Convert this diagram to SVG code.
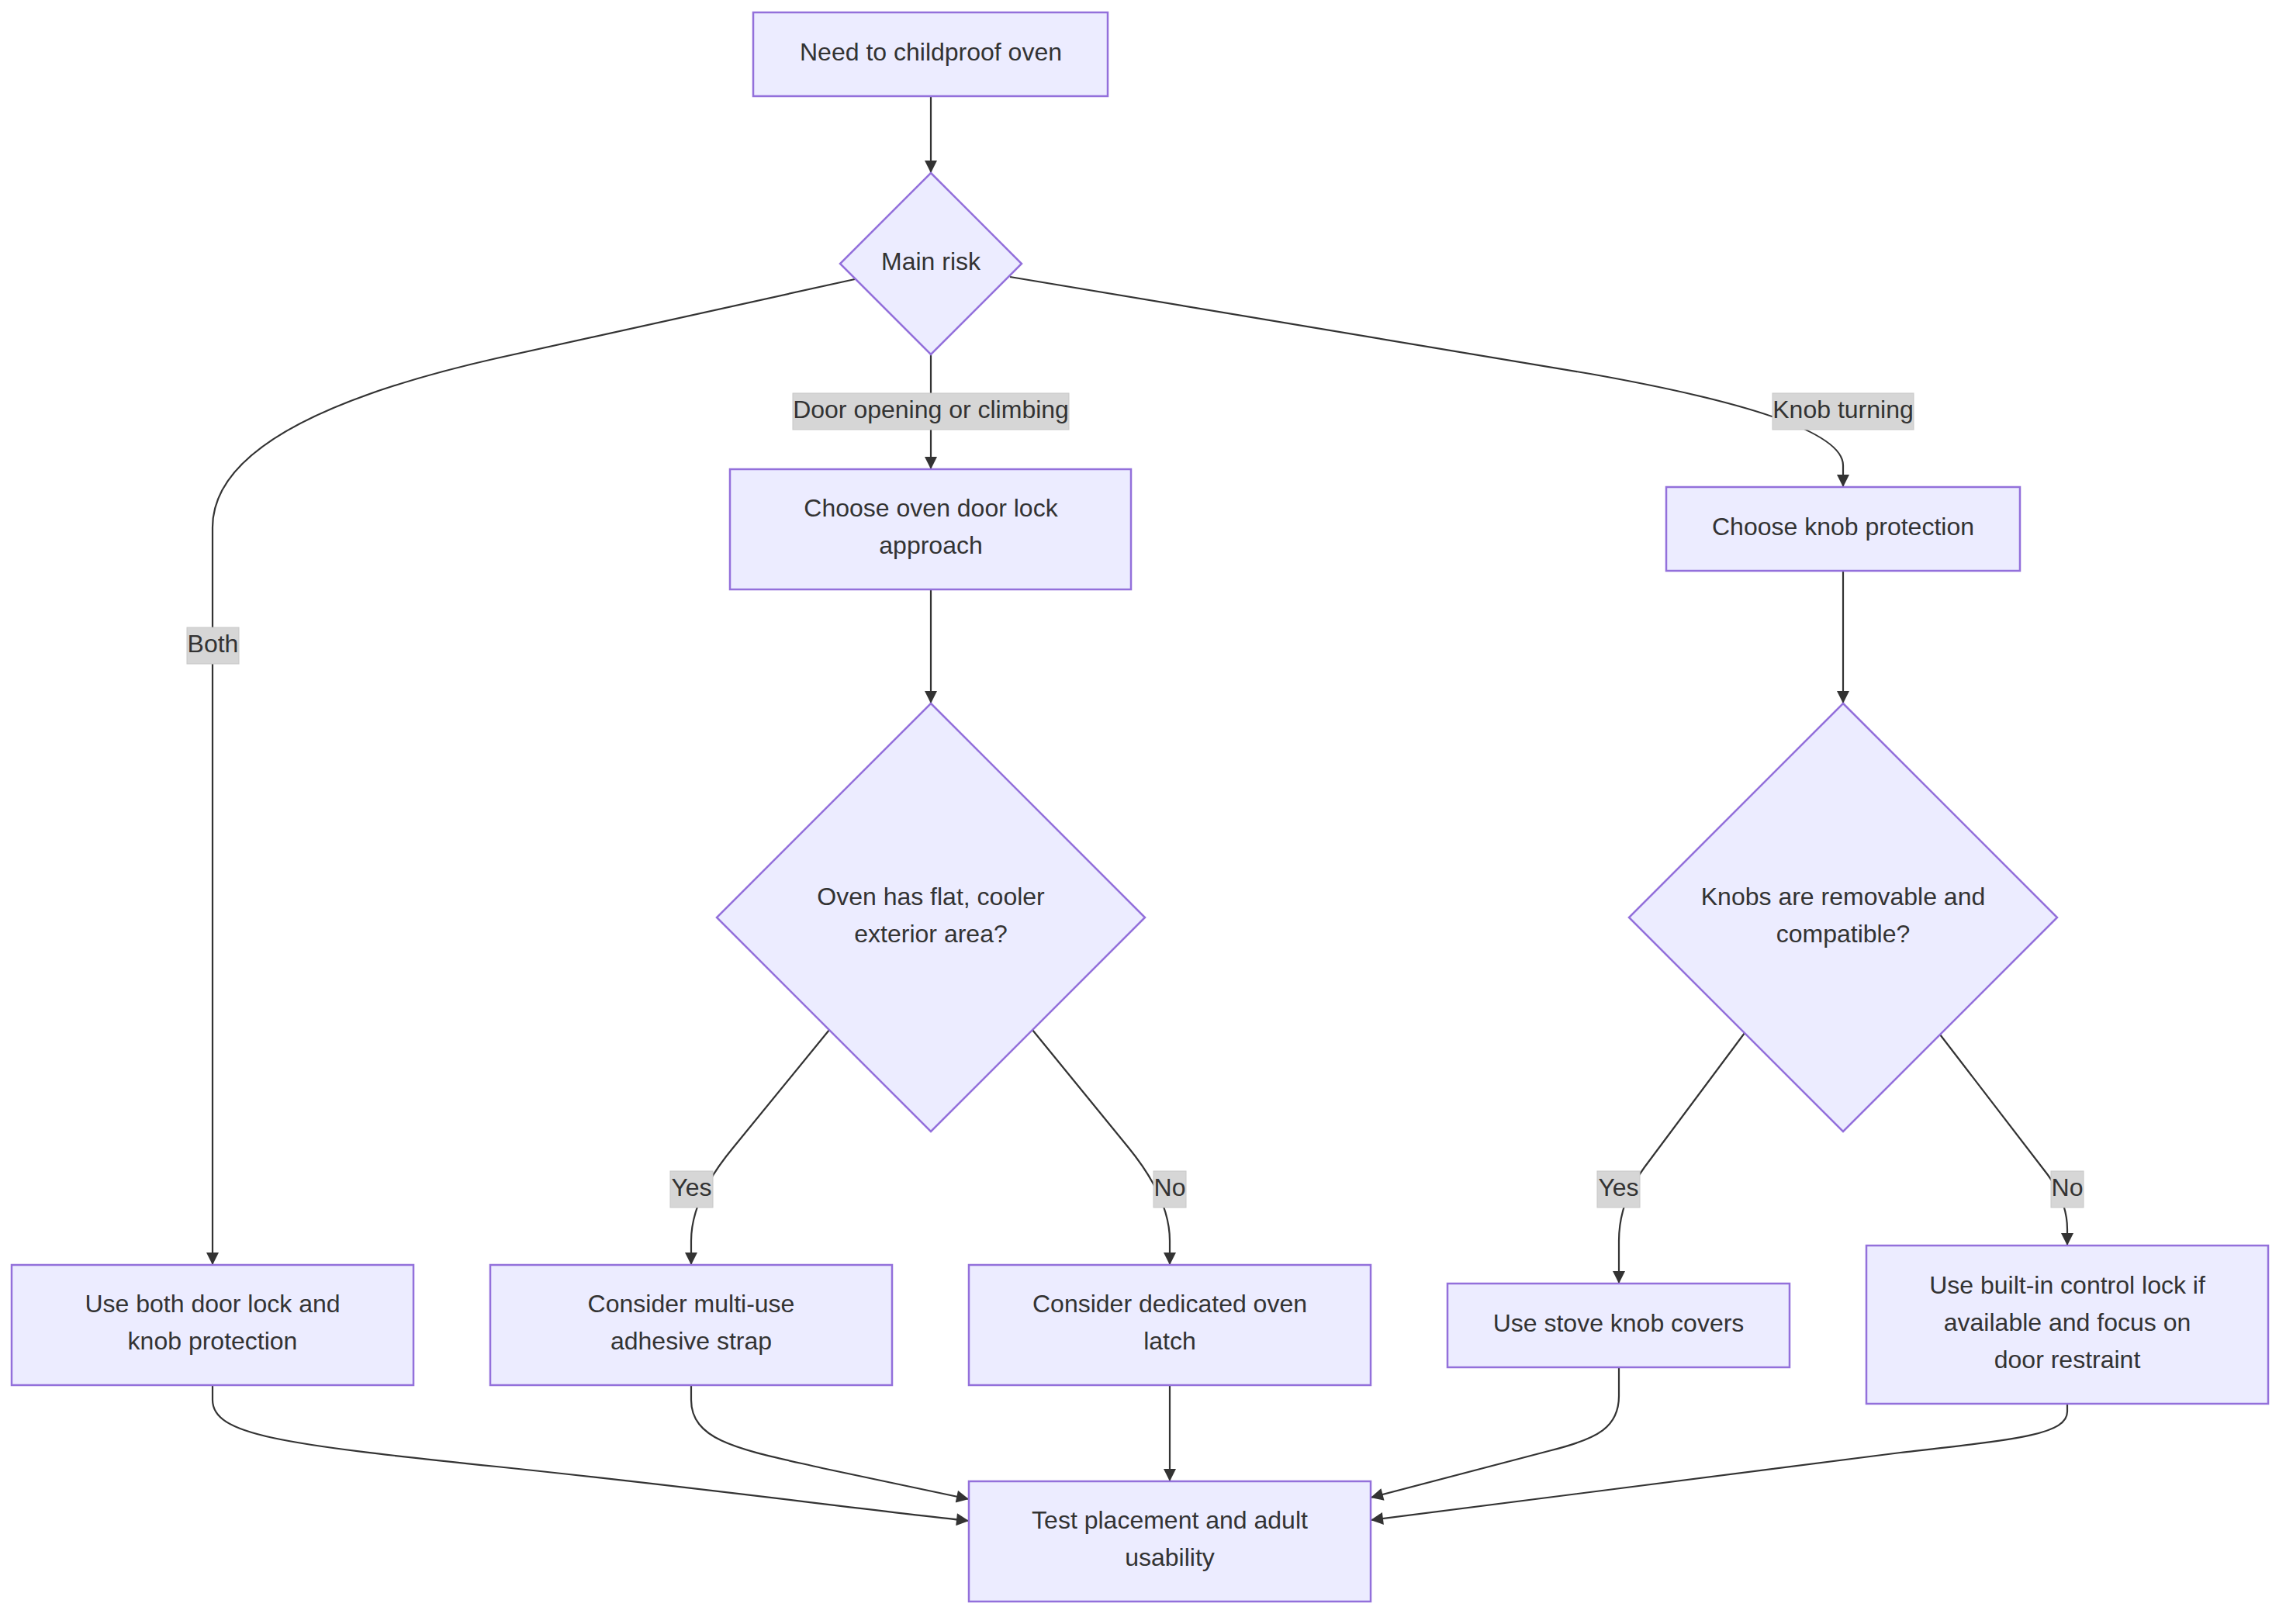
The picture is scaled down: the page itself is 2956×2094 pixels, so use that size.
<svg xmlns="http://www.w3.org/2000/svg" width="2956" height="2094" viewBox="0 0 2956 2094">
<defs>
<marker id="arrow" viewBox="0 0 10 10" refX="10" refY="5" markerUnits="userSpaceOnUse" markerWidth="17" markerHeight="16" orient="auto">
<path d="M0,0 L10,5 L0,10 z" fill="#333333"/>
</marker>
</defs>
<style>
.node rect, .node polygon { fill: #ECECFF; stroke: #9370DB; stroke-width: 2.5; }
.node text, .elabel text { font-family: "Liberation Sans", Arial, sans-serif; font-size: 32px; fill: #333333; text-anchor: middle; }
.edge { fill: none; stroke: #333333; stroke-width: 2.2; marker-end: url(#arrow); }
.elabel rect { fill: #d6d6d6; stroke: #c8c8c8; stroke-width: 1; }
</style>
<rect width="2956" height="2094" fill="#ffffff"/>

<g id="connectors">
<path class="edge" d="M1200,124 L1200,223"/>
<path class="edge" d="M1200,457 L1200,605"/>
<path class="edge" d="M1102,360 L640,462 Q274,545 274,680 L274,1631"/>
<path class="edge" d="M1302,357 L2050,482 Q2376,540 2376,600 L2376,628"/>
<path class="edge" d="M1200,760 L1200,907"/>
<path class="edge" d="M2376,736 L2376,907"/>
<path class="edge" d="M1069,1328 L945,1480 Q891,1545 891,1600 L891,1631"/>
<path class="edge" d="M1331,1328 L1455,1480 Q1508,1545 1508,1600 L1508,1631"/>
<path class="edge" d="M2249,1332 L2120,1505 Q2087,1550 2087,1600 L2087,1655"/>
<path class="edge" d="M2501,1334 L2640,1515 Q2665,1550 2665,1585 L2665,1606"/>
<path class="edge" d="M274,1786 L274,1805 C274,1850 360,1862 640,1891 C900,1918 1100,1945 1249,1961"/>
<path class="edge" d="M891,1786 L891,1805 C891,1860 960,1870 1060,1893 L1249,1933"/>
<path class="edge" d="M1508,1786 L1508,1910"/>
<path class="edge" d="M2087,1763 L2087,1800 C2087,1840 2060,1855 2000,1870 L1767,1931"/>
<path class="edge" d="M2665,1810 L2665,1820 C2665,1850 2600,1856 2450,1873 L1767,1960"/>
</g>

<g id="edge-labels">
<g class="elabel" id="label-door"><rect x="1022" y="507" width="356" height="47"/><text x="1200" y="539">Door opening or climbing</text></g>
<g class="elabel" id="label-both"><rect x="241" y="809" width="67" height="47"/><text x="274.5" y="841">Both</text></g>
<g class="elabel" id="label-knob"><rect x="2285" y="507" width="182" height="47"/><text x="2376" y="539">Knob turning</text></g>
<g class="elabel" id="label-yes1"><rect x="864" y="1510" width="55" height="47"/><text x="891.5" y="1542">Yes</text></g>
<g class="elabel" id="label-no1"><rect x="1487" y="1510" width="42" height="47"/><text x="1508" y="1542">No</text></g>
<g class="elabel" id="label-yes2"><rect x="2059" y="1510" width="55" height="47"/><text x="2086.5" y="1542">Yes</text></g>
<g class="elabel" id="label-no2"><rect x="2644" y="1510" width="42" height="47"/><text x="2665" y="1542">No</text></g>
</g>

<g id="node-start" class="node"><rect x="971" y="16" width="457" height="108"/><text x="1200" y="78">Need to childproof oven</text></g>
<g id="node-mainrisk" class="node"><polygon points="1200,223 1317,340 1200,457 1083,340"/><text x="1200" y="348">Main risk</text></g>
<g id="node-doorlock" class="node"><rect x="941" y="605" width="517" height="155"/><text x="1200" y="666">Choose oven door lock</text><text x="1200" y="714">approach</text></g>
<g id="node-knobprot" class="node"><rect x="2148" y="628" width="456" height="108"/><text x="2376" y="690">Choose knob protection</text></g>
<g id="node-flat" class="node"><polygon points="1200,907 1476,1183 1200,1459 924,1183"/><text x="1200" y="1167">Oven has flat, cooler</text><text x="1200" y="1215">exterior area?</text></g>
<g id="node-removable" class="node"><polygon points="2376,907 2652,1183 2376,1459 2100,1183"/><text x="2376" y="1167">Knobs are removable and</text><text x="2376" y="1215">compatible?</text></g>
<g id="node-both" class="node"><rect x="15" y="1631" width="518" height="155"/><text x="274" y="1692">Use both door lock and</text><text x="274" y="1740">knob protection</text></g>
<g id="node-strap" class="node"><rect x="632" y="1631" width="518" height="155"/><text x="891" y="1692">Consider multi-use</text><text x="891" y="1740">adhesive strap</text></g>
<g id="node-latch" class="node"><rect x="1249" y="1631" width="518" height="155"/><text x="1508" y="1692">Consider dedicated oven</text><text x="1508" y="1740">latch</text></g>
<g id="node-covers" class="node"><rect x="1866" y="1655" width="441" height="108"/><text x="2086.5" y="1717">Use stove knob covers</text></g>
<g id="node-builtin" class="node"><rect x="2406" y="1606" width="518" height="204"/><text x="2665" y="1668">Use built-in control lock if</text><text x="2665" y="1716">available and focus on</text><text x="2665" y="1764">door restraint</text></g>
<g id="node-test" class="node"><rect x="1249" y="1910" width="518" height="155"/><text x="1508" y="1971">Test placement and adult</text><text x="1508" y="2019">usability</text></g>
</svg>
